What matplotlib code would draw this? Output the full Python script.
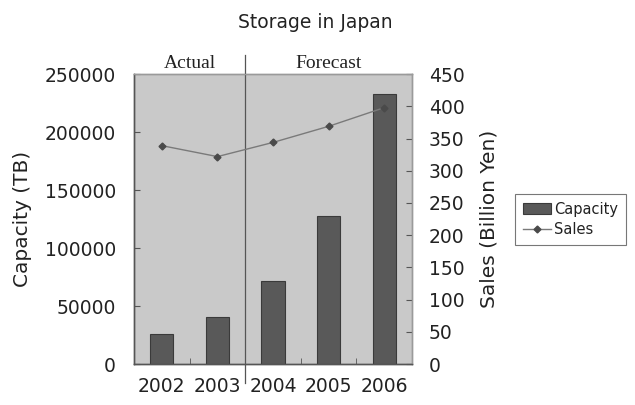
import matplotlib
matplotlib.use("Agg")
import matplotlib.pyplot as plt
from matplotlib.patches import Patch
from matplotlib.lines import Line2D

# Storage market in Japan: capacity shipped and sales, 2002-2006
years = ["2002", "2003", "2004", "2005", "2006"]
capacity_tb = [26000, 40500, 71500, 127500, 232500]
sales_billion_yen = [339, 322, 344, 369, 398]
period_labels = ["Actual", "Forecast"]

bar_color = "#595959"
line_color = "#7a7a7a"
text_color = "#222222"
panel_color = "#c9c9c9"

plt.rcParams["font.family"] = "DejaVu Sans"

fig = plt.figure(figsize=(6.35, 4.05), dpi=100)
ax = fig.add_axes([0.211, 0.101, 0.438, 0.716])
ax.set_facecolor(panel_color)

x = list(range(len(years)))
ax.bar(x, capacity_tb, width=0.42, color=bar_color, edgecolor="#3a3a3a",
       linewidth=0.8, zorder=3)
ax.set_xlim(-0.5, len(years) - 0.5)
ax.set_ylim(0, 250000)
ax.set_yticks(range(0, 250001, 50000))
ax.set_xticks(x)
ax.set_xticklabels(years)
ax.set_xticks([i + 0.5 for i in x[:-1]], minor=True)
ax.tick_params(axis="x", which="major", length=0, pad=9.5, labelsize=13.5,
               colors=text_color)
ax.tick_params(axis="x", which="minor", direction="in", length=4,
               color="#555555")
ax.tick_params(axis="y", direction="in", length=4, color="#555555",
               labelsize=13.5, labelcolor=text_color, pad=13)
ax.set_ylabel("Capacity (TB)", fontsize=14.5, color=text_color)
ax.yaxis.set_label_coords(-0.367, 0.5)

# sales on the secondary axis
ax2 = ax.twinx()
ax2.plot(x, sales_billion_yen, color=line_color, linewidth=1.0,
         marker="D", markersize=3.5, markerfacecolor="#4a4a4a",
         markeredgecolor="#4a4a4a", zorder=4)
ax2.set_ylim(0, 450)
ax2.set_yticks(range(0, 451, 50))
ax2.tick_params(axis="y", direction="in", length=4, color="#555555",
                labelsize=13.5, labelcolor=text_color, pad=12)
ax2.set_ylabel("Sales (Billion Yen)", fontsize=14.5, color=text_color)
ax2.yaxis.set_label_coords(1.243, 0.5)

for a in (ax, ax2):
    for side, sp in a.spines.items():
        sp.set_color("#555555" if side in ("left", "bottom") else "#9a9a9a")
        sp.set_linewidth(1.0)

# split between actual and forecast years
split = 1.5
ax.axvline(split, ymin=-0.066, ymax=1.066, color="#555555", linewidth=0.9,
           clip_on=False, zorder=5)
ax.text((-0.5 + split) / 2, 252000, period_labels[0], ha="center",
        va="bottom", fontsize=14, family="Liberation Serif", color=text_color)
ax.text((split + len(years) - 0.5) / 2, 252000, period_labels[1],
        ha="center", va="bottom", fontsize=14, family="Liberation Serif",
        color=text_color)

fig.text(0.497, 0.945, "Storage in Japan", ha="center", va="center",
         fontsize=13.5, color=text_color)

handles = [
    Patch(facecolor=bar_color, edgecolor="#3a3a3a", linewidth=0.8),
    Line2D([], [], color=line_color, linewidth=1.0, marker="D",
           markersize=3.5, markerfacecolor="#4a4a4a",
           markeredgecolor="#4a4a4a"),
]
leg = fig.legend(handles, ["Capacity", "Sales"], loc="upper left",
                 bbox_to_anchor=(0.8, 0.54), fontsize=10.5,
                 fancybox=False, framealpha=1, edgecolor="#777777",
                 handlelength=1.9, handletextpad=0.2, borderpad=0.55,
                 labelspacing=0.4)
leg.get_frame().set_linewidth(0.8)
for t in leg.get_texts():
    t.set_color(text_color)

fig.savefig("out.png", dpi=100)
